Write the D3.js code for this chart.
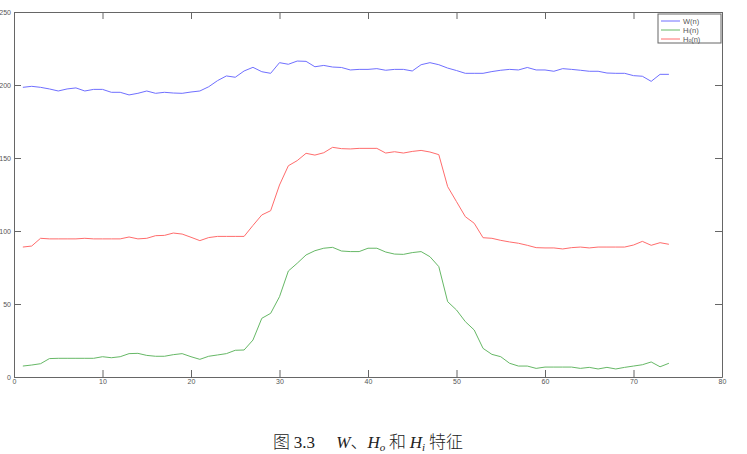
<!DOCTYPE html>
<html>
<head>
<meta charset="utf-8">
<script src="https://cdn.jsdelivr.net/npm/d3@7"></script>
<style>
  body { margin: 0; background: #fff; }
  svg { display: block; }
  .tick text { font-family: "Liberation Sans", Arial, sans-serif; font-size: 7px; fill: #555; }
</style>
</head>
<body>
<div id="canvas"></div>
<script>
const W = 747
const H = 454

// sample index n = 1..74
const nValues = d3.range(1, 75)

const wSeries = [198.4, 199.1, 198.4, 197.3, 195.9, 197.3, 198, 195.9, 197, 197,
	195, 195, 193.2, 194.3, 195.9, 194.3, 195, 194.5, 194.3, 195.2,
	195.9, 198.8, 203, 206.2, 205.3, 209.6, 212.1, 209.1, 208, 215.3,
	214.2, 216.4, 216.2, 212.5, 213.4, 212.3, 212, 210.3, 210.7, 210.7,
	211.2, 210.1, 210.7, 210.7, 209.6, 213.9, 215.3, 213.9, 211.6, 209.9,
	208, 208, 208, 209.2, 210.1, 210.7, 210.3, 212, 210.3, 210.3,
	209.4, 211.2, 210.7, 210.1, 209.4, 209.4, 208.2, 208, 208, 206.4,
	206, 202.5, 207.3, 207.3]

const hoSeries = [89, 89.7, 95, 94.6, 94.6, 94.6, 94.6, 95, 94.6, 94.6,
	94.6, 94.6, 95.9, 94.6, 95, 96.8, 97, 98.6, 97.9, 95.7,
	93.4, 95.5, 96.3, 96.3, 96.3, 96.3, 103.8, 111, 113.9, 131.5,
	144.7, 148.2, 153.2, 152, 153.6, 157.3, 156.4, 156.2, 156.6, 156.6,
	156.6, 153.4, 154.3, 153.4, 154.5, 155.2, 154.1, 152.3, 130.4, 120.1,
	109.8, 105.3, 95.4, 95, 93.6, 92.5, 91.6, 90.2, 88.6, 88.4,
	88.4, 87.7, 88.6, 89, 88.4, 89, 89, 89, 89, 90.4,
	92.9, 90.2, 92, 90.9]

const hiSeries = [7.5, 8.2, 9.1, 12.6, 12.8, 12.8, 12.8, 12.8, 12.8, 13.9,
	13.2, 13.9, 16, 16.2, 14.8, 14.2, 14.2, 15.3, 16, 13.9,
	12.1, 14.2, 15.1, 16, 18.3, 18.5, 25.3, 40.2, 43.6, 55,
	72.6, 77.9, 83.6, 86.5, 88.2, 88.8, 86.3, 85.9, 85.9, 88.2,
	88.2, 85.6, 84.2, 84, 85.2, 85.9, 82.4, 75.6, 51.6, 45.9,
	37.9, 32.2, 19.6, 15.5, 13.9, 9.4, 7.5, 7.5, 5.9, 6.8,
	6.8, 6.8, 6.8, 5.9, 6.6, 5.5, 6.6, 5.5, 6.6, 7.5,
	8.4, 10.3, 7, 9.4]

const xTicks = [0, 10, 20, 30, 40, 50, 60, 70, 80]
const yTicks = [0, 50, 100, 150, 200, 250]

const seriesNames = ['W(n)', 'Hi(n)', 'Ho(n)']
const seriesColors = ['#6f6fff', '#66b866', '#ff6c6c']

const margin = {top: 12, right: 25, bottom: 77, left: 14}
const gw = W - margin.left - margin.right
const gh = H - margin.top - margin.bottom

const svg = d3.select('#canvas')
	.append('svg')
	.attr('width', W)
	.attr('height', H)

const graph = svg.append('g')
	.attr('transform', `translate(${margin.left}, ${margin.top})`)

const x = d3.scaleLinear().domain([0, 80]).range([0, gw])
const y = d3.scaleLinear().domain([0, 250]).range([gh, 0])

// axes, ticks pointing inward like matlab
const tickLen = 7
const axisColor = '#666'
const xAxisGroup = graph.append('g').attr('transform', `translate(0, ${gh})`)
	.call(d3.axisBottom(x).tickValues(xTicks).tickSizeInner(-tickLen).tickSizeOuter(0).tickPadding(3))
const yAxisGroup = graph.append('g')
	.call(d3.axisLeft(y).tickValues(yTicks).tickSizeInner(-tickLen).tickSizeOuter(0).tickPadding(3))
const xTop = graph.append('g')
	.call(d3.axisTop(x).tickValues(xTicks).tickSizeInner(-tickLen).tickSizeOuter(0).tickFormat(''))
const yRight = graph.append('g').attr('transform', `translate(${gw}, 0)`)
	.call(d3.axisRight(y).tickValues(yTicks).tickSizeInner(-tickLen).tickSizeOuter(0).tickFormat(''))

graph.selectAll('.domain, .tick line').attr('stroke', axisColor)
xAxisGroup.selectAll('text').attr('dy', '0.5em')

// lines
const allSeries = [wSeries, hiSeries, hoSeries]
const line = d3.line()
	.x((d, i) => x(nValues[i]))
	.y(d => y(d))

graph.selectAll('path.series')
	.data(allSeries)
	.enter()
	.append('path')
		.attr('class', 'series')
		.attr('fill', 'none')
		.attr('stroke', (d, i) => seriesColors[i])
		.attr('stroke-width', 1)
		.attr('d', line)

// legend
const legend = svg.append('g').attr('transform', 'translate(658, 14)')
legend.append('rect')
	.attr('width', 63)
	.attr('height', 29)
	.attr('fill', '#fff')
	.attr('stroke', axisColor)
const items = legend.selectAll('g.item')
	.data(seriesNames)
	.enter()
	.append('g')
		.attr('transform', (d, i) => `translate(0, ${7 + i * 9})`)
items.append('line')
	.attr('x1', 3).attr('x2', 22)
	.attr('stroke', (d, i) => seriesColors[i])
items.append('text')
	.attr('x', 25)
	.attr('dy', '0.35em')
	.style('font-family', '"Liberation Sans", Arial, sans-serif')
	.style('font-size', '7.5px')
	.attr('fill', '#555')
	.each(function(d) {
		const t = d3.select(this)
		if (d === 'W(n)') { t.text(d); return }
		t.append('tspan').text('H')
		t.append('tspan').attr('font-size', '5px').text(d === 'Hi(n)' ? 'i' : 'o')
		t.append('tspan').text('(n)')
	})

// caption
const serif = '"Liberation Serif", "Times New Roman", serif'
const cjk = '"Noto Sans CJK SC", sans-serif'
const cap = svg.append('text')
	.attr('x', 368)
	.attr('y', 448)
	.attr('text-anchor', 'middle')
	.style('font-size', '17px')
	.attr('fill', '#222')
const part = (txt, fam, opts = {}) => {
	const s = cap.append('tspan').style('font-family', fam).text(txt)
	if (opts.italic) s.style('font-style', 'italic')
	if (opts.size) s.style('font-size', opts.size)
	if (opts.dy) s.attr('dy', opts.dy)
	return s
}
part('图 ', cjk).style('font-weight', '300')
part('3.3\u2003 ', serif)
part('W', serif, {italic: true})
part('、', cjk).style('font-weight', '300')
part('H', serif, {italic: true})
part('o', serif, {italic: true, size: '11px', dy: 3})
part(' 和 ', cjk, {dy: -3}).style('font-weight', '300')
part('H', serif, {italic: true})
part('i', serif, {italic: true, size: '11px', dy: 3})
part(' 特征', cjk, {dy: -3}).style('font-weight', '300')
</script>
</body>
</html>
